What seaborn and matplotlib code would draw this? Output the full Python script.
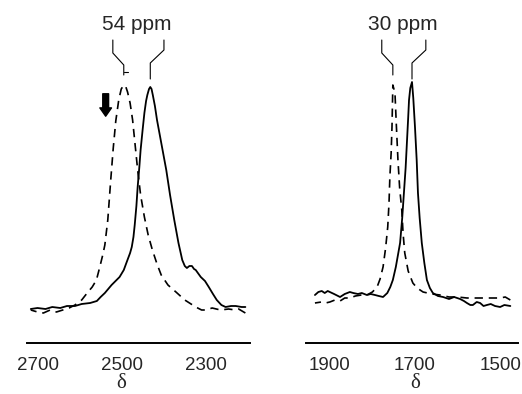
import numpy as np
import pandas as pd
import seaborn as sns
from matplotlib import pyplot as plt

# left panel, intensity in arbitrary units (0 = axis line)
left_shift = [2716, 2700, 2686, 2670, 2655, 2640, 2625, 2611, 2595, 2582, 2570, 2560, 2552, 2545,
              2540, 2533, 2526, 2520, 2514, 2507, 2501, 2495, 2490, 2486, 2480, 2474, 2468, 2462,
              2455, 2446, 2437, 2427, 2416, 2406, 2390, 2371, 2350, 2324, 2310, 2300, 2285, 2265,
              2246, 2230, 2222, 2206]
left_dashed = [33, 31, 30, 33, 31, 33, 35, 38, 43, 50, 56, 63, 76, 88,
               98, 123, 163, 195, 222, 243, 254, 258, 256, 251, 240, 223, 198, 173,
               148, 126, 108, 93, 79, 68, 58, 51, 43, 36, 33, 33, 35, 33,
               34, 33, 34, 30]

left_shift_s = [2716, 2700, 2681, 2665, 2646, 2630, 2611, 2595, 2575, 2559, 2550, 2540, 2524, 2505,
                2495, 2488, 2480, 2476, 2472, 2469, 2465, 2462, 2458, 2455, 2450, 2446, 2442, 2439,
                2435, 2432, 2429, 2426, 2421, 2416, 2405, 2394, 2385, 2375, 2365, 2356, 2350, 2345,
                2339, 2333, 2328, 2324, 2312, 2302, 2293, 2283, 2274, 2263, 2253, 2240, 2229, 2215,
                2206]
left_solid = [34, 35, 34, 36, 35, 37, 37, 39, 40, 42, 46, 50, 58, 66,
              73, 81, 90, 96, 106, 118, 137, 156, 176, 193, 214, 230, 242, 248,
              254, 256, 254, 248, 237, 223, 198, 173, 148, 123, 100, 83, 77, 75,
              77, 77, 74, 73, 66, 62, 56, 49, 43, 38, 36, 37, 37, 36,
              36]

# right panel
right_shift = [1935, 1920, 1910, 1900, 1888, 1876, 1865, 1853, 1840, 1826, 1813, 1800, 1789, 1782,
               1775, 1769, 1764, 1761, 1759, 1756, 1754, 1752, 1747, 1744, 1740, 1736, 1731, 1728,
               1724, 1716, 1705, 1695, 1681, 1660, 1641, 1620, 1600, 1578, 1550, 1520, 1500, 1488,
               1476]
right_dashed = [40, 41, 40, 41, 43, 42, 45, 45, 47, 48, 48, 51, 56, 64,
                76, 95, 116, 140, 166, 190, 216, 258, 250, 220, 183, 155, 133, 110,
                90, 72, 60, 55, 51, 49, 48, 46, 46, 45, 45, 45, 45, 46,
                43]

right_shift_s = [1935, 1927, 1919, 1912, 1905, 1900, 1890, 1876, 1865, 1853, 1845, 1834, 1825, 1813,
                 1804, 1794, 1785, 1775, 1765, 1758, 1752, 1745, 1740, 1735, 1730, 1726, 1722, 1719,
                 1716, 1714, 1711, 1707, 1704, 1700, 1696, 1693, 1689, 1684, 1678, 1672, 1665, 1658,
                 1646, 1634, 1620, 1608, 1594, 1585, 1578, 1570, 1564, 1555, 1547, 1539, 1531, 1522,
                 1512, 1500, 1490, 1476]
right_solid = [48, 51, 52, 50, 52, 51, 49, 46, 49, 51, 50, 49, 50, 48,
               49, 48, 47, 46, 50, 56, 63, 76, 88, 100, 125, 150, 175, 200,
               225, 243, 255, 261, 245, 216, 183, 150, 125, 100, 80, 63, 55, 50,
               47, 46, 44, 46, 44, 42, 40, 38, 38, 41, 40, 37, 38, 39,
               37, 36, 38, 37]

left_ticks = [2700, 2600, 2500, 2400, 2300]
left_labels = ["2700", "", "2500", "", "2300"]
right_ticks = [1900, 1800, 1700, 1600, 1500]
right_labels = ["1900", "", "1700", "", "1500"]

sns.set_style("white")
plt.rcParams['font.family'] = ['Liberation Sans', 'DejaVu Sans']

fig = plt.figure(figsize=(5.22, 3.94), dpi=100)
axL = fig.add_axes([27/522, 1-343/394, 223/522, 343/394])
axR = fig.add_axes([306/522, 1-343/394, 212/522, 343/394])


def panel(ax, xd, yd, xs, ys, xlim, ticks, labels, mid, ppm):
    d1 = pd.DataFrame({"x": xd, "y": yd})
    d2 = pd.DataFrame({"x": xs, "y": ys})
    sns.lineplot(data=d1, x="x", y="y", ax=ax, color="black", lw=1.2,
                 estimator=None, linestyle=(0, (5, 3.5)))
    sns.lineplot(data=d2, x="x", y="y", ax=ax, color="black", lw=1.3, estimator=None)
    ax.set_xlim(*xlim)
    ax.set_ylim(0, 343)
    for s in ["left", "top", "right"]:
        ax.spines[s].set_visible(False)
    ax.spines["bottom"].set_linewidth(1.4)
    ax.spines["bottom"].set_color("black")
    ax.set_yticks([])
    ax.set_xticks(ticks)
    ax.set_xticklabels(labels, fontsize=13.5)
    ax.tick_params(axis="x", direction="in", length=4, width=1.3, pad=10, color="black")
    ax.set_ylabel("")
    ax.set_xlabel("δ", fontsize=15, family=["Liberation Serif", "DejaVu Serif"])
    fx = (mid - xlim[0]) / (xlim[1] - xlim[0])
    ax.xaxis.set_label_coords(fx, -0.09)

    # brackets above the two peaks
    pd_ = xd[int(np.argmax(yd))]
    ps_ = xs[int(np.argmax(ys))]
    off = 26
    ax.plot([pd_, pd_, pd_ + off, pd_ + off], [268, 278, 290, 303], color="black", lw=0.8, clip_on=False)
    ax.plot([ps_, ps_, ps_ - off * 1.25, ps_ - off * 1.25], [264, 280, 293, 303], color="black", lw=0.8, clip_on=False)
    ax.text((pd_ + ps_) / 2, 318, ppm, ha="center", va="center", fontsize=15)
    return pd_, ps_


pdL, psL = panel(axL, left_shift, left_dashed, left_shift_s, left_solid, (2725, 2195),
                 left_ticks, left_labels, 2500, "54 ppm")
axL.plot([pdL, pdL - 9], [271, 271], color="black", lw=0.8)
axL.annotate("", xy=(2538, 224), xytext=(2538, 252),
             arrowprops=dict(arrowstyle="simple,head_length=0.5,head_width=0.7,tail_width=0.35",
                             fc="black", ec="black", mutation_scale=12))

panel(axR, right_shift, right_dashed, right_shift_s, right_solid, (1956, 1458),
      right_ticks, right_labels, 1700, "30 ppm")

fig.savefig("out.png", dpi=100)
